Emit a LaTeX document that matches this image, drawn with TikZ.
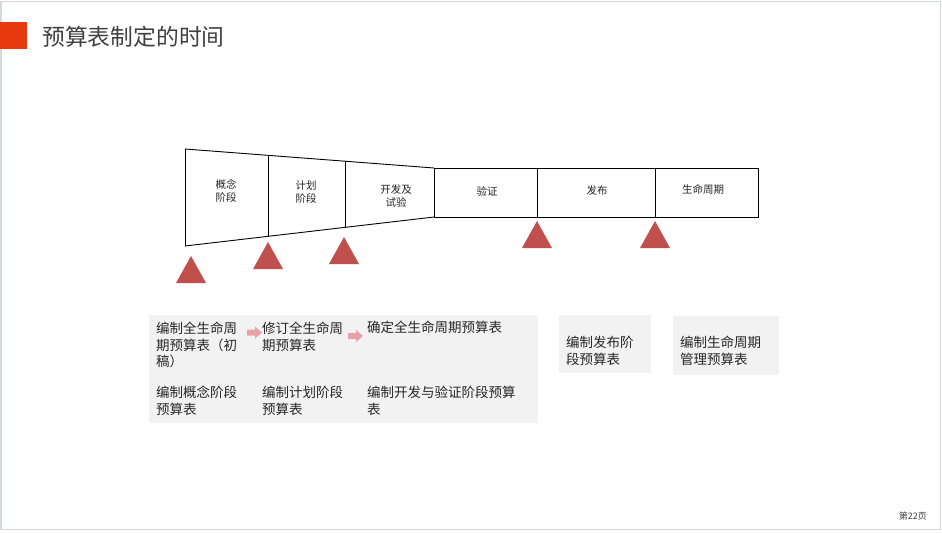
\documentclass[tikz,border=0pt]{standalone}
\usepackage{fontspec}
\setmainfont{Noto Sans CJK SC}
\definecolor{slideborder}{HTML}{D3DADE}
\definecolor{titlered}{HTML}{E8380D}
\definecolor{titlegray}{HTML}{404040}
\definecolor{tri}{HTML}{C0504D}
\definecolor{panel}{HTML}{F2F2F2}
\definecolor{pinkarrow}{HTML}{E9A1A9}
\definecolor{txt}{HTML}{262626}
\tikzset{
  phase/.style={font=\fontsize{10.5}{13}\selectfont, text=txt, align=center, inner sep=0},
  marker/.style={fill=tri, draw=none},
  panelbox/.style={fill=panel, draw=none},
  ptext/.style={font=\fontsize{13.5}{16.5}\selectfont, text=txt, align=left, anchor=north west, inner sep=0},
  parrow/.style={fill=pinkarrow, draw=none},
  edge/.style={draw=black, line width=0.9}
}
\begin{document}
\begin{tikzpicture}[x=1pt,y=-1pt]
\useasboundingbox (0,0) rectangle (942,533);
\fill[white] (0,0) rectangle (942,533);
\draw[slideborder, line width=1.5] (0.75,1.5) rectangle (940.5,529.5);
% title
\fill[titlered] (0,22) rectangle (27,49);
\node[anchor=west, inner sep=0, font=\fontsize{22.8}{27}\selectfont, text=titlegray] (title) at (42,37) {预算表制定的时间};
% funnel
\coordinate (f1t) at (185,149);
\coordinate (f1b) at (185,246);
\coordinate (f2t) at (268,155.3);
\coordinate (f2b) at (268,236.3);
\coordinate (f3t) at (345,161.2);
\coordinate (f3b) at (345,227.4);
\coordinate (f4t) at (434,168);
\coordinate (f4b) at (434,217);
\draw[edge] (f1t) -- (f1b);
\draw[edge] (f2t) -- (f2b);
\draw[edge] (f3t) -- (f3b);
\draw[edge] (f1t) -- (f4t);
\draw[edge] (f1b) -- (f4b);
% rectangle stages
\draw[edge] (434,168) rectangle (758,217);
\draw[edge] (537,168) -- (537,217);
\draw[edge] (655,168) -- (655,217);
\node[phase] (p1) at (226,191) {概念\\阶段};
\node[phase] (p2) at (306,192) {计划\\阶段};
\node[phase] (p3) at (396,196) {开发及\\试验};
\node[phase] (p4) at (487,191) {验证};
\node[phase] (p5) at (597,191) {发布};
\node[phase] (p6) at (703,189) {生命周期};
% markers
\fill[marker] (191,256) -- (206,283) -- (176,283) -- cycle;
\fill[marker] (268,242) -- (283,269) -- (253,269) -- cycle;
\fill[marker] (344,237) -- (359,264) -- (329,264) -- cycle;
\fill[marker] (537,221) -- (552,248) -- (522,248) -- cycle;
\fill[marker] (655,221) -- (670,248) -- (640,248) -- cycle;
% panels
\fill[panelbox] (149,315) rectangle (538,423);
\fill[panelbox] (559,315) rectangle (651,373);
\fill[panelbox] (673,316) rectangle (779,375);
\node[ptext] (t1) at (156,322) {编制全生命周\\期预算表（初\\稿）};
\node[ptext] (t2) at (262,322) {修订全生命周\\期预算表};
\node[ptext] (t3) at (367,321) {确定全生命周期预算表};
% pink block arrows
\coordinate (a1) at (247,332.5);
\coordinate (a2) at (348,336);
\fill[parrow] (a1) ++(0,-3) -- ++(8,0) -- ++(0,-3) -- ++(7,6) -- ++(-7,6) -- ++(0,-3) -- ++(-8,0) -- cycle;
\fill[parrow] (a2) ++(0,-3) -- ++(8,0) -- ++(0,-3) -- ++(7,6) -- ++(-7,6) -- ++(0,-3) -- ++(-8,0) -- cycle;
\node[ptext] (t4) at (156,386) {编制概念阶段\\预算表};
\node[ptext] (t5) at (262,386) {编制计划阶段\\预算表};
\node[ptext] (t6) at (367,386) {编制开发与验证阶段预算\\表};
\node[ptext] (t7) at (566,336) {编制发布阶\\段预算表};
\node[ptext] (t8) at (680,336) {编制生命周期\\管理预算表};
% footer
\node[anchor=east, inner sep=0, font=\fontsize{9}{11}\selectfont, text=titlegray] (page) at (927,516) {第22页};
\end{tikzpicture}
\end{document}
